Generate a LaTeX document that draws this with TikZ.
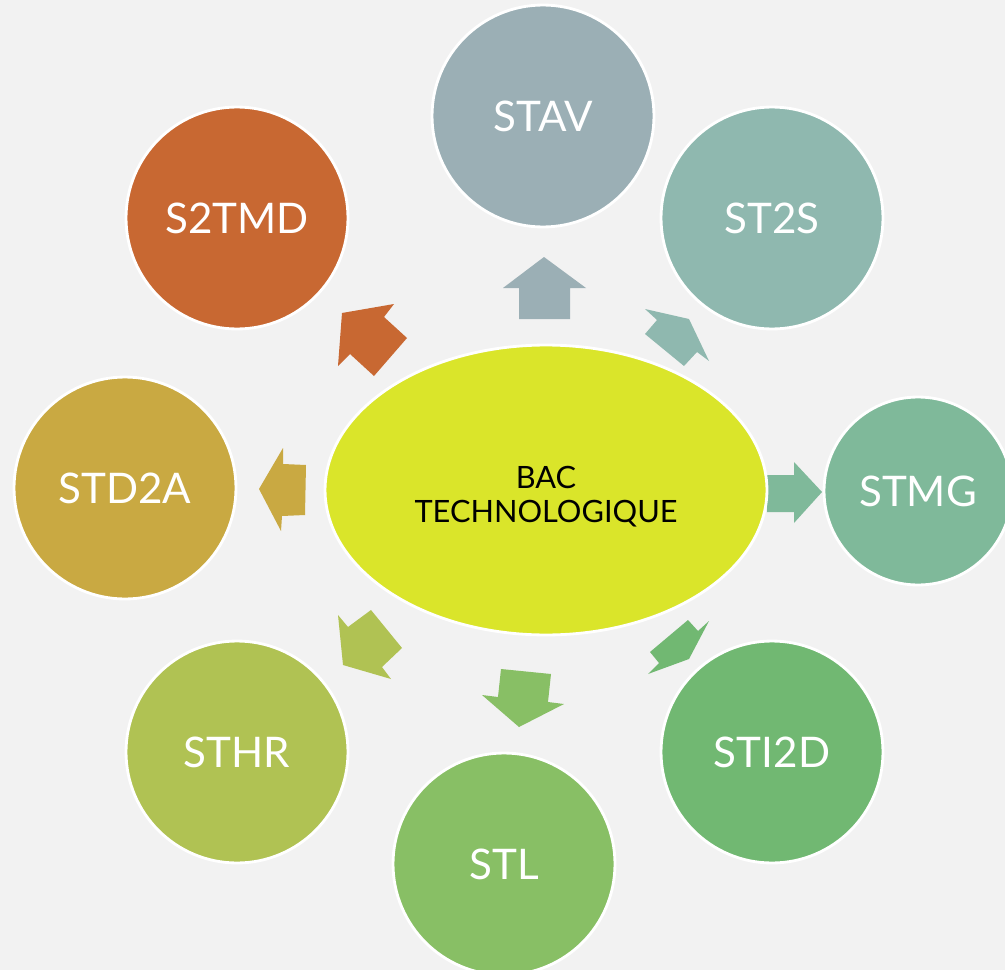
\documentclass[tikz,border=0pt]{standalone}
\usepackage{fontspec}
\setmainfont{Lato}
\usetikzlibrary{shapes.geometric}

\definecolor{bgGray}{HTML}{F2F2F2}
\definecolor{bacYellow}{HTML}{DAE52A}
\definecolor{stavColor}{HTML}{9BAFB5}
\definecolor{stsColor}{HTML}{8FB8AF}
\definecolor{stmgColor}{HTML}{7FB99A}
\definecolor{stidColor}{HTML}{71B872}
\definecolor{stlColor}{HTML}{88BF65}
\definecolor{sthrColor}{HTML}{B0C253}
\definecolor{stdaColor}{HTML}{C9A942}
\definecolor{stmdColor}{HTML}{C86832}

\tikzset{
  bubble/.style={circle, draw=white, line width=1.6pt, text=white,
    minimum size=4.44cm, inner sep=0pt, font=\fontsize{24}{28}\selectfont},
  centre/.style={ellipse, draw=white, line width=1.6pt, fill=bacYellow,
    minimum width=8.84cm, minimum height=5.8cm, inner sep=0pt,
    font=\fontsize{17.5}{19.5}\selectfont}
}

\begin{document}
\begin{tikzpicture}[x=0.02cm, y=-0.02cm]
  \fill[bgGray] (0,0) rectangle (1005,970);
  \useasboundingbox (0,0) rectangle (1005,970);

  % block arrows
  \fill[stavColor] (519,319) -- (519,288) -- (503,288) -- (544,257) -- (586,288) -- (570,288) -- (570,319) -- cycle;
  \fill[stsColor]  (645,334) -- (657,320) -- (645,309) -- (689,319) -- (709,361) -- (697,352) -- (684,366) -- cycle;
  \fill[stmgColor] (767,475) -- (794,475) -- (794,462) -- (822,492) -- (794,523) -- (794,512) -- (767,512) -- cycle;
  \fill[stidColor] (688,620) -- (698,631) -- (709,621) -- (689,659) -- (648,674) -- (659,663) -- (650,652) -- cycle;
  \fill[stlColor]  (501,669) -- (498,697) -- (482,695) -- (519,727) -- (564,704) -- (548,702) -- (551,674) -- cycle;
  \fill[sthrColor] (371,610) -- (348,627) -- (338,615) -- (343,665) -- (391,679) -- (382,667) -- (402,648) -- cycle;
  \fill[stdaColor] (306,465) -- (283,464) -- (283,448) -- (259,489) -- (281,531) -- (282,516) -- (305,515) -- cycle;
  \fill[stmdColor] (407,338) -- (384,317) -- (394,304) -- (342,313) -- (338,366) -- (350,354) -- (374,376) -- cycle;

  \node[centre] (bac) at (546,490)
    {\raisebox{0pt}[\dimexpr\height+0.36cm][\depth]{\begin{tabular}{@{}c@{}}BAC\\TECHNOLOGIQUE\end{tabular}}};

  % the eight series
  \node[bubble, fill=stavColor] (stav) at (543,116) {STAV};
  \node[bubble, fill=stsColor]  (sts)  at (772,218) {ST2S};
  \node[bubble, fill=stmgColor, minimum size=3.76cm] (stmg) at (918,491) {STMG};
  \node[bubble, fill=stidColor] (stid) at (772,752) {STI2D};
  \node[bubble, fill=stlColor]  (stl)  at (504,864) {STL};
  \node[bubble, fill=sthrColor] (sthr) at (237,752) {STHR};
  \node[bubble, fill=stdaColor] (stda) at (125,488) {STD2A};
  \node[bubble, fill=stmdColor] (stmd) at (237,218) {S2TMD};
\end{tikzpicture}
\end{document}
